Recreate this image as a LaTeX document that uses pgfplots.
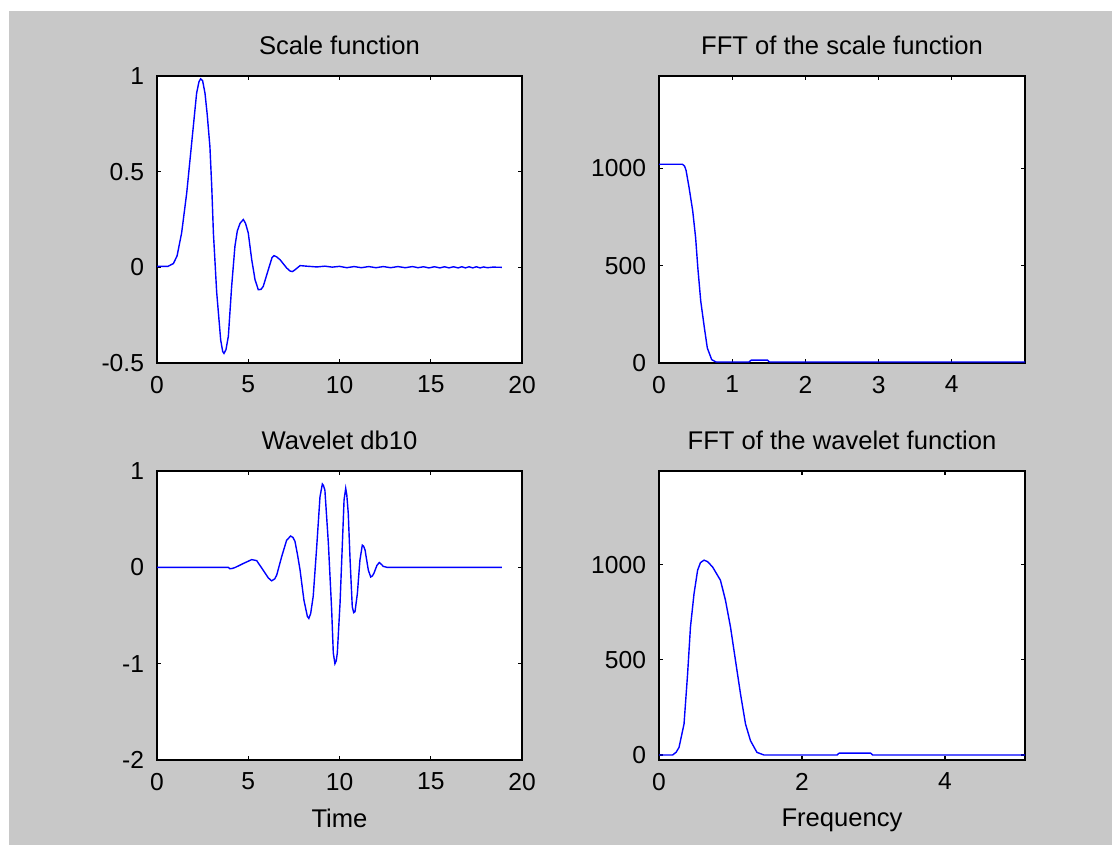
\documentclass[border=0pt]{standalone}
\usepackage{fontspec}
\setmainfont{Liberation Sans}
\usepackage{pgfplots}
\pgfplotsset{compat=1.18}
\definecolor{figgray}{RGB}{200,200,200}
\definecolor{mblue}{RGB}{0,0,255}
\pgfplotsset{
  mstyle/.style={
    scale only axis,
    width=182.5pt, height=143.5pt,
    anchor=south west,
    axis background/.style={fill=white},
    axis line style={black, line width=0.8pt},
    tick align=inside,
    major tick length=1.8pt,
    tick style={black, line width=0.6pt},
    xtick pos=both, ytick pos=both,
    /pgf/number format/assume math mode=true,
    /pgf/number format/1000 sep={},
    scaled ticks=false,
    ticklabel style={font=\fontsize{12.3}{14}\selectfont},
    yticklabel style={xshift=-3pt},
    xticklabel style={yshift=-3pt},
    title style={font=\fontsize{12.8}{15}\selectfont, yshift=1pt},
    xlabel style={font=\fontsize{12.8}{15}\selectfont, yshift=-2.5pt},
    every axis plot/.append style={mblue, line width=0.7pt, no markers},
  }
}
\begin{document}
\begin{tikzpicture}
\useasboundingbox (0,0) rectangle (556pt,422.5pt);
\fill[white] (0,0) rectangle (556pt,422.5pt);
\fill[figgray] (4.5pt,0) rectangle (556pt,417pt);

% Scale function
\begin{axis}[mstyle, at={(78.5pt,241pt)},
  xmin=0, xmax=20, ymin=-0.5, ymax=1,
  xtick={0,5,10,15,20}, ytick={-0.5,0,0.5,1},
  title={Scale function}]
\addplot coordinates {
(0,0.005) (0.6,0.005) (0.9,0.02) (1.1,0.06) (1.35,0.18) (1.63,0.39) (1.9,0.65)
(2.17,0.91) (2.3,0.97) (2.39,0.985) (2.5,0.975) (2.63,0.91) (2.75,0.80) (2.9,0.63)
(3.0,0.42) (3.09,0.18) (3.27,-0.13) (3.49,-0.38) (3.6,-0.44) (3.67,-0.45) (3.78,-0.43)
(3.91,-0.36) (4.09,-0.10) (4.27,0.11) (4.4,0.19) (4.55,0.23) (4.73,0.25) (4.85,0.23)
(5.0,0.18) (5.19,0.04) (5.37,-0.064) (5.55,-0.117) (5.7,-0.115) (5.82,-0.10)
(6.10,-0.012) (6.3,0.05) (6.41,0.061) (6.55,0.055) (6.74,0.04) (7.1,-0.003)
(7.3,-0.02) (7.43,-0.022) (7.6,-0.01) (7.84,0.009) (8.2,0.006) (8.75,0.002)
(9.2,0.006) (9.6,0.001) (10.0,0.005) (10.4,-0.002) (10.8,0.004) (11.2,-0.002)
(11.6,0.004) (12.0,-0.002) (12.4,0.004) (12.8,-0.002) (13.2,0.004) (13.6,-0.002)
(14.0,0.004) (14.3,-0.002) (14.6,0.003) (14.9,-0.003) (15.2,0.003) (15.5,-0.003)
(15.75,0.003) (16.0,-0.003) (16.25,0.003) (16.5,-0.003) (16.7,0.003) (16.9,-0.003)
(17.1,0.003) (17.3,-0.003) (17.5,0.003) (17.7,-0.003) (17.9,0.002) (18.1,-0.002)
(18.4,0.001) (18.9,0)
};
\end{axis}

% FFT of the scale function
\begin{axis}[mstyle, at={(329.5pt,241pt)}, width=183pt,
  xmin=0, xmax=5, ymin=0, ymax=1473,
  xtick={0,1,2,3,4}, ytick={0,500,1000},
  title={FFT of the scale function}]
\addplot coordinates {
(0,1020) (0.32,1020) (0.35,1010) (0.37,988) (0.41,902) (0.46,782) (0.50,644)
(0.53,490) (0.57,318) (0.62,180) (0.66,77) (0.72,17) (0.78,5) (1.23,5) (1.26,15)
(1.48,15) (1.51,5) (5,5)
};
\end{axis}

% Wavelet db10
\begin{axis}[mstyle, at={(78.5pt,42.5pt)}, height=144.5pt,
  xmin=0, xmax=20, ymin=-2, ymax=1,
  xtick={0,5,10,15,20}, ytick={-2,-1,0,1},
  title={Wavelet db10}, xlabel={Time}]
\addplot coordinates {
(0,0) (3.9,0) (4.0,-0.015) (4.15,-0.01) (4.3,0) (4.73,0.04) (5.19,0.08) (5.46,0.07)
(5.82,-0.03) (6.10,-0.11) (6.28,-0.14) (6.45,-0.12) (6.56,-0.08) (6.83,0.11)
(7.1,0.28) (7.32,0.325) (7.45,0.31) (7.56,0.27) (7.7,0.13) (7.84,-0.03) (8.05,-0.34)
(8.24,-0.51) (8.32,-0.53) (8.42,-0.48) (8.56,-0.30) (8.75,0.21) (8.93,0.73)
(9.06,0.865) (9.12,0.85) (9.2,0.80) (9.39,0.25) (9.57,-0.44) (9.66,-0.89)
(9.75,-1.0) (9.82,-0.97) (9.88,-0.89) (10.03,-0.37) (10.15,0.21) (10.25,0.70)
(10.34,0.82) (10.4,0.75) (10.48,0.56) (10.58,0.076) (10.70,-0.41) (10.78,-0.47)
(10.85,-0.46) (10.98,-0.27) (11.12,0.076) (11.25,0.23) (11.32,0.22) (11.4,0.18)
(11.58,-0.03) (11.71,-0.10) (11.8,-0.09) (11.89,-0.06) (12.05,0.02) (12.18,0.05)
(12.3,0.03) (12.4,0.01) (12.6,0) (18.9,0)
};
\end{axis}

% FFT of the wavelet function
\begin{axis}[mstyle, at={(329.5pt,42.5pt)}, width=183pt, height=144.5pt,
  xmin=0, xmax=5.12, ymin=-26, ymax=1491,
  xtick={0,2,4}, ytick={0,500,1000},
  title={FFT of the wavelet function}, xlabel={Frequency}]
\addplot coordinates {
(0,0) (0.19,0) (0.24,15) (0.28,40) (0.35,163) (0.40,426) (0.44,672) (0.49,847)
(0.54,970) (0.58,1010) (0.63,1023) (0.68,1015) (0.75,987) (0.86,917) (0.93,812)
(1.0,672) (1.07,496) (1.14,321) (1.21,163) (1.28,75) (1.37,14) (1.47,0) (2.49,0)
(2.52,10) (2.96,10) (2.99,0) (5.12,0)
};
\end{axis}
\end{tikzpicture}
\end{document}
